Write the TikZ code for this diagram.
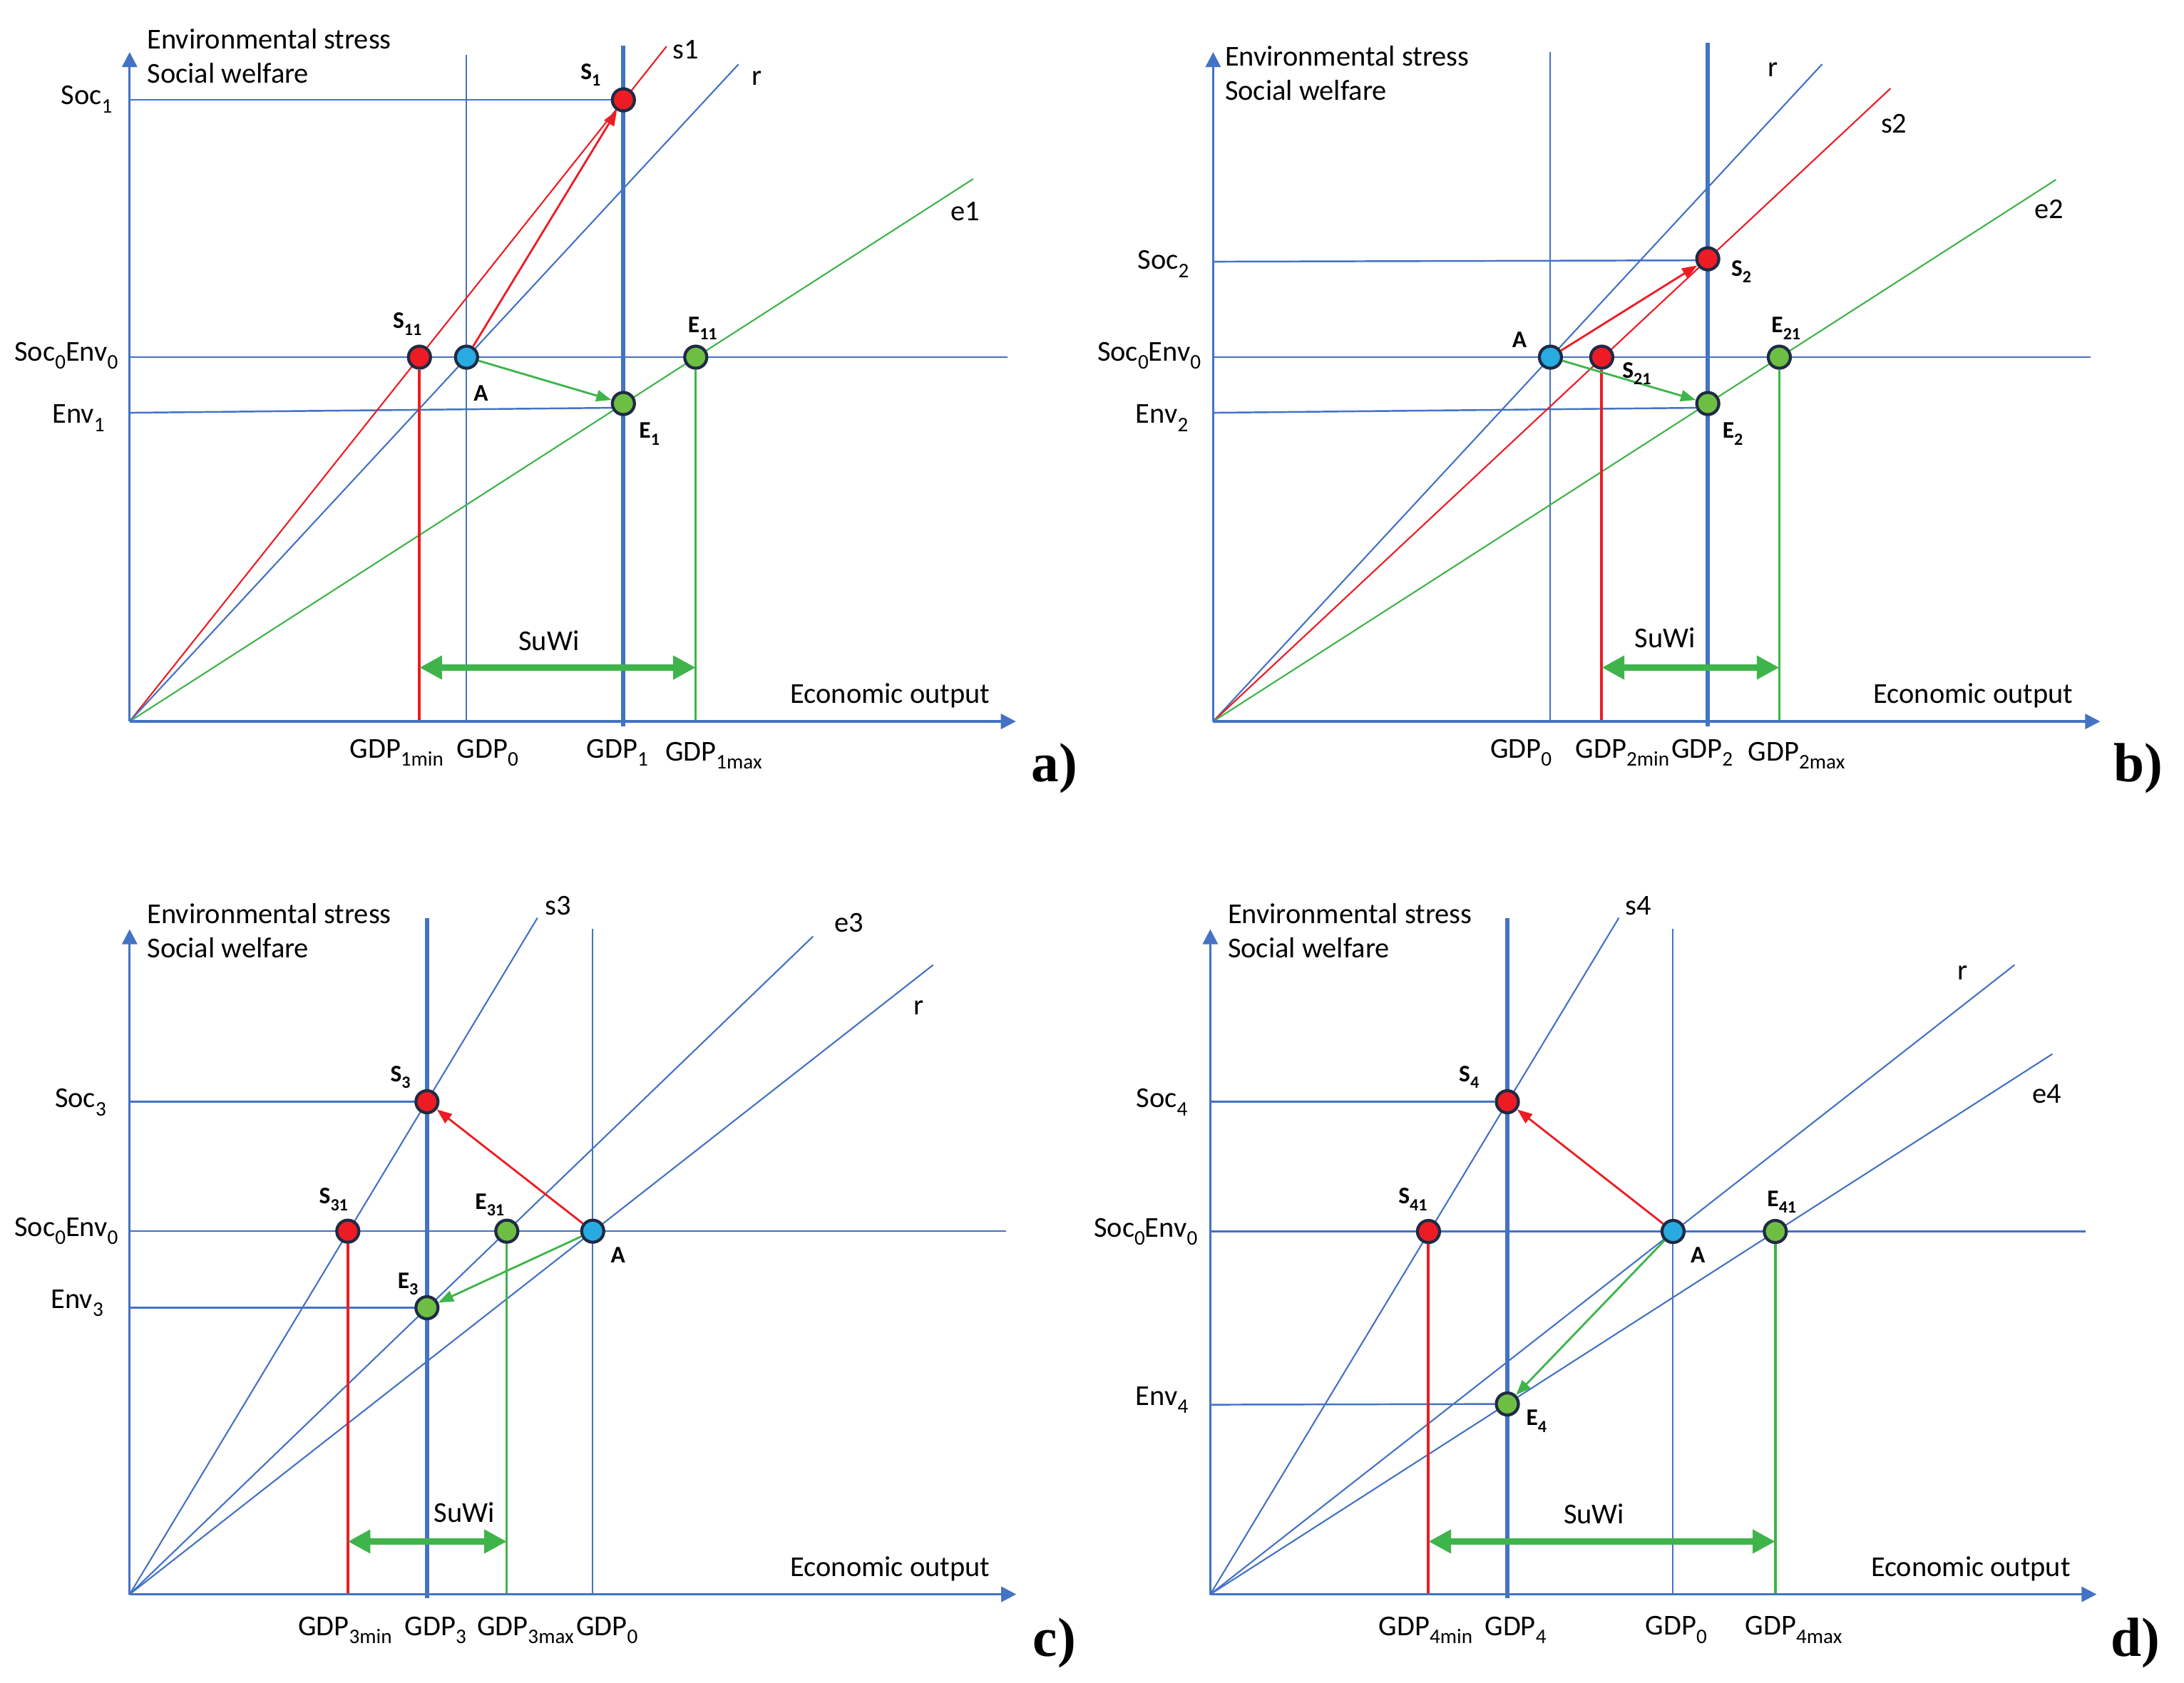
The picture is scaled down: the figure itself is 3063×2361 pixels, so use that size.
\documentclass[tikz,border=0pt]{standalone}
\usepackage{fontspec}
\setmainfont{Carlito}
\newfontfamily\tagfont{Liberation Serif}
\usetikzlibrary{arrows.meta,backgrounds}

\definecolor{axblue}{RGB}{68,114,196}
\definecolor{lred}{RGB}{237,28,36}
\definecolor{lgreen}{RGB}{62,180,74}
\definecolor{ptblue}{RGB}{41,170,225}
\definecolor{ptgreen}{RGB}{110,190,68}
\definecolor{navy}{RGB}{31,42,68}

\newcommand{\dn}[1]{\raisebox{-0.28em}{\scalebox{0.72}{#1}}}

\begin{document}
\begin{tikzpicture}[x=0.01cm,y=0.01cm,
    axis/.style={draw=axblue,line width=0.95pt,-{Triangle[length=6pt,width=6pt]}},
    guide/.style={draw=axblue,line width=0.7pt},
    gdpzero/.style={draw=axblue,line width=0.6pt},
    gdpline/.style={draw=axblue,line width=1.8pt},
    slope/.style={line width=0.6pt},
    minline/.style={draw=lred,line width=1.1pt},
    maxline/.style={draw=lgreen,line width=0.95pt},
    mov/.style={line width=0.8pt,-{Triangle[length=6pt,width=4.5pt]}},
    suwi/.style={draw=lgreen,line width=2.8pt,
        arrows={Triangle[length=9pt,width=9pt]-Triangle[length=9pt,width=9pt]}},
    pnt/.style={circle,draw=navy,line width=1.2pt,minimum size=0.31cm,inner sep=0pt},
    redpt/.style={pnt,fill=lred},
    bluept/.style={pnt,fill=ptblue},
    greenpt/.style={pnt,fill=ptgreen},
    lbl/.style={font=\fontsize{11.5}{13}\selectfont,inner sep=0pt},
    ptlbl/.style={font=\fontsize{9.5}{11}\selectfont\bfseries,inner sep=0pt},
    tag/.style={font=\tagfont\bfseries\fontsize{22}{24}\selectfont,inner sep=0pt}]

\useasboundingbox (0,0) rectangle (3063,2361);

% ---------------- a)
\begin{scope}[shift={(181.8,1348.9)}]
    \coordinate (aO) at (0,0);
    \coordinate (aY) at (0,939);
    \coordinate (aX) at (1243,0);
    \coordinate (aH) at (1231,511);
    \coordinate (aSoc) at (0,872);
    \coordinate (aEnv) at (0,433);
    \coordinate (aG0) at (472.5,935);
    \coordinate (aG1t) at (692.5,948);
    \coordinate (aG1b) at (692.5,-7);
    \coordinate (aW) at (0,75.6);
    \coordinate (as) at (753,947);
    \coordinate (ar) at (854,922);
    \coordinate (ae) at (1183,761);

    \node[redpt] (aS11) at (406.5,511) {};
    \node[bluept] (aA) at (472.5,511) {};
    \node[greenpt] (aE11) at (794,511) {};
    \node[redpt] (aS1) at (692.5,872) {};
    \node[greenpt] (aE1) at (692.5,446) {};

    \begin{scope}[on background layer]
    \draw[guide] (aO |- aA) -- (aH);
    \draw[guide] (aSoc) -- (aS1);
    \draw[guide] (aEnv) -- (aE1.200);
    \draw[gdpzero] (aG0) -- (aG0 |- aO);
    \draw[gdpline] (aG1t) -- (aG1b);
    \draw[slope,lred] (aO) -- (as);
    \draw[slope,axblue] (aO) -- (ar);
    \draw[slope,lgreen] (aO) -- (ae);
    \draw[minline] (aS11) -- (aS11 |- aO);
    \draw[maxline] (aE11) -- (aE11 |- aO);
    \draw[axis] (aO) -- (aX);
    \draw[axis] (aO) -- (aY);
    \end{scope}
    \draw[suwi] (aS11 |- aW) -- (aE11 |- aW);
    \draw[mov,lred] (aA) -- (aS1);
    \draw[mov,lgreen] (aA) -- (aE1);

    \node[lbl] (aLs) at (779.6,942.4) {s1};
    \node[lbl] (aLr) at (880,902) {r};
    \node[lbl] (aLe) at (1171.8,715) {e1};
    \node[ptlbl] (aLS11) at (389.3,557.4) {S\dn{11}};
    \node[ptlbl] (aLS1) at (646.6,907.2) {S\dn{1}};
    \node[ptlbl] (aLE11) at (803.5,551.5) {E\dn{11}};
    \node[ptlbl] (aLA) at (492.6,460.6) {A};
    \node[ptlbl] (aLE1) at (728.9,403.4) {E\dn{1}};
    \node[lbl] (aLsoc) at (-60.3,872.8) {Soc\dn{1}};
    \node[lbl] (aLse) at (-89,513) {Soc\dn{0}Env\dn{0}};
    \node[lbl] (aLenv) at (-71.8,425.4) {Env\dn{1}};
    \node[lbl] (aLgmin) at (374.5,-44) {GDP\dn{1min}};
    \node[lbl] (aLg0) at (502,-44) {GDP\dn{0}};
    \node[lbl] (aLg1) at (684,-44) {GDP\dn{1}};
    \node[lbl] (aLgmax) at (819,-47.7) {GDP\dn{1max}};
    \node[lbl,anchor=west] (aLes) at (24,957) {Environmental stress};
    \node[lbl,anchor=west] (aLsw) at (24,909.4) {Social welfare};
    \node[lbl] (aLeo) at (1066.6,36.7) {Economic output};
    \node[lbl] (aLsuwi) at (588,113.7) {SuWi};
    \node[tag] (aTag) at (1297,-66) {a)};
\end{scope}

% ---------------- b)
\begin{scope}[shift={(1701.4,1348.9)}]
    \coordinate (bO) at (0,0);
    \coordinate (bY) at (0,939);
    \coordinate (bX) at (1244,0);
    \coordinate (bH) at (1231,511);
    \coordinate (bSoc) at (0,645);
    \coordinate (bEnv) at (0,433);
    \coordinate (bG0) at (473,939);
    \coordinate (bG2t) at (693.7,952);
    \coordinate (bG2b) at (693.7,-7);
    \coordinate (bW) at (0,75.6);
    \coordinate (bs) at (950,888);
    \coordinate (br) at (854,922);
    \coordinate (be) at (1182,760);

    \node[bluept] (bA) at (473,511) {};
    \node[redpt] (bS21) at (545,511) {};
    \node[greenpt] (bE21) at (794,511) {};
    \node[redpt] (bS2) at (693.7,649) {};
    \node[greenpt] (bE2) at (693.7,446) {};

    \begin{scope}[on background layer]
    \draw[guide] (bO |- bA) -- (bH);
    \draw[guide] (bSoc) -- (bS2.187);
    \draw[guide] (bEnv) -- (bE2.200);
    \draw[gdpzero] (bG0) -- (bG0 |- bO);
    \draw[gdpline] (bG2t) -- (bG2b);
    \draw[slope,axblue] (bO) -- (br);
    \draw[slope,lred] (bO) -- (bs);
    \draw[slope,lgreen] (bO) -- (be);
    \draw[minline] (bS21) -- (bS21 |- bO);
    \draw[maxline] (bE21) -- (bE21 |- bO);
    \draw[axis] (bO) -- (bX);
    \draw[axis] (bO) -- (bY);
    \end{scope}
    \draw[suwi] (bS21 |- bW) -- (bE21 |- bW);
    \draw[mov,lred] (bA) -- (bS2);
    \draw[mov,lgreen] (bA) -- (bE2);

    \node[lbl] (bLr) at (785.4,914.6) {r};
    \node[lbl] (bLs) at (954.9,838.3) {s2};
    \node[lbl] (bLe) at (1172.2,718.7) {e2};
    \node[ptlbl] (bLS2) at (740.6,630.7) {S\dn{2}};
    \node[ptlbl] (bLA) at (429.6,535.4) {A};
    \node[ptlbl] (bLS21) at (594,487.7) {S\dn{21}};
    \node[ptlbl] (bLE21) at (803.4,551.5) {E\dn{21}};
    \node[ptlbl] (bLE2) at (728.6,403.4) {E\dn{2}};
    \node[lbl] (bLsoc) at (-69.8,641.7) {Soc\dn{2}};
    \node[lbl] (bLse) at (-89.8,513) {Soc\dn{0}Env\dn{0}};
    \node[lbl] (bLenv) at (-71.8,425.4) {Env\dn{2}};
    \node[lbl] (bLg0) at (431.6,-44) {GDP\dn{0}};
    \node[lbl] (bLgmin) at (574,-44) {GDP\dn{2min}};
    \node[lbl] (bLg2) at (685.7,-44) {GDP\dn{2}};
    \node[lbl] (bLgmax) at (818.3,-47.7) {GDP\dn{2max}};
    \node[lbl,anchor=west] (bLes) at (16,933.6) {Environmental stress};
    \node[lbl,anchor=west] (bLsw) at (16,885.2) {Social welfare};
    \node[lbl] (bLeo) at (1066,36.7) {Economic output};
    \node[lbl] (bLsuwi) at (633.9,117.4) {SuWi};
    \node[tag] (bTag) at (1297,-66) {b)};
\end{scope}

% ---------------- c)
\begin{scope}[shift={(181.8,124.4)}]
    \coordinate (cO) at (0,0);
    \coordinate (cY) at (0,933);
    \coordinate (cX) at (1243.5,0);
    \coordinate (cH) at (1229,509.4);
    \coordinate (cSoc) at (0,691);
    \coordinate (cEnv) at (0,402);
    \coordinate (cG0) at (649.5,934);
    \coordinate (cG3t) at (417,949);
    \coordinate (cG3b) at (417,-5);
    \coordinate (cW) at (0,74.1);
    \coordinate (cs) at (572,949);
    \coordinate (ce) at (958.5,923);
    \coordinate (cr) at (1127,883);

    \node[redpt] (cS31) at (306,509.4) {};
    \node[greenpt] (cE31) at (529,509.4) {};
    \node[bluept] (cA) at (649.5,509.4) {};
    \node[redpt] (cS3) at (417,691) {};
    \node[greenpt] (cE3) at (417,402) {};

    \begin{scope}[on background layer]
    \draw[guide] (cO |- cA) -- (cH);
    \draw[guide] (cSoc) -- (cS3);
    \draw[guide] (cEnv) -- (cE3);
    \draw[gdpzero] (cG0) -- (cG0 |- cO);
    \draw[gdpline] (cG3t) -- (cG3b);
    \draw[slope,axblue] (cO) -- (cs);
    \draw[slope,axblue] (cO) -- (ce);
    \draw[slope,axblue] (cO) -- (cr);
    \draw[minline] (cS31) -- (cS31 |- cO);
    \draw[maxline] (cE31) -- (cE31 |- cO);
    \draw[axis] (cO) -- (cX);
    \draw[axis] (cO) -- (cY);
    \end{scope}
    \draw[suwi] (cS31 |- cW) -- (cE31 |- cW);
    \draw[mov,lred] (cA) -- (cS3);
    \draw[mov,lgreen] (cA) -- (cE3);

    \node[lbl] (cLs) at (600.7,966.3) {s3};
    \node[lbl] (cLe) at (1009.2,941.8) {e3};
    \node[lbl] (cLr) at (1106.7,823.4) {r};
    \node[ptlbl] (cLS3) at (379.7,725.6) {S\dn{3}};
    \node[ptlbl] (cLS31) at (286,553.9) {S\dn{31}};
    \node[ptlbl] (cLE31) at (505,546.5) {E\dn{31}};
    \node[ptlbl] (cLE3) at (390.2,435.4) {E\dn{3}};
    \node[ptlbl] (cLA) at (684.9,476.1) {A};
    \node[lbl] (cLsoc) at (-68.9,690.1) {Soc\dn{3}};
    \node[lbl] (cLse) at (-89,509.4) {Soc\dn{0}Env\dn{0}};
    \node[lbl] (cLenv) at (-73.7,408.7) {Env\dn{3}};
    \node[lbl] (cLgmin) at (302.2,-50.3) {GDP\dn{3min}};
    \node[lbl] (cLg3) at (429,-50.3) {GDP\dn{3}};
    \node[lbl] (cLgmax) at (555.2,-50.3) {GDP\dn{3max}};
    \node[lbl] (cLg0) at (669.6,-50.3) {GDP\dn{0}};
    \node[lbl,anchor=west] (cLes) at (24,955.2) {Environmental stress};
    \node[lbl,anchor=west] (cLsw) at (24,907) {Social welfare};
    \node[lbl] (cLeo) at (1066.6,35.6) {Economic output};
    \node[lbl] (cLsuwi) at (469.6,114.8) {SuWi};
    \node[tag] (cTag) at (1297,-68.4) {c)};
\end{scope}

% ---------------- d)
\begin{scope}[shift={(1697.4,124.4)}]
    \coordinate (dO) at (0,0);
    \coordinate (dY) at (0,933);
    \coordinate (dX) at (1243,0);
    \coordinate (dH) at (1228,509);
    \coordinate (dSoc) at (0,691);
    \coordinate (dEnv) at (0,266);
    \coordinate (dG0) at (649,934);
    \coordinate (dG4t) at (416.6,949);
    \coordinate (dG4b) at (416.6,-5);
    \coordinate (dW) at (0,74.1);
    \coordinate (ds) at (573,949);
    \coordinate (dr) at (1128,883);
    \coordinate (de) at (1181,758);

    \node[redpt] (dS41) at (306,509) {};
    \node[bluept] (dA) at (649,509) {};
    \node[greenpt] (dE41) at (792.4,509) {};
    \node[redpt] (dS4) at (416.6,691) {};
    \node[greenpt] (dE4) at (416.6,267) {};

    \begin{scope}[on background layer]
    \draw[guide] (dO |- dA) -- (dH);
    \draw[guide] (dSoc) -- (dS4);
    \draw[guide] (dEnv) -- (dE4);
    \draw[gdpzero] (dG0) -- (dG0 |- dO);
    \draw[gdpline] (dG4t) -- (dG4b);
    \draw[slope,axblue] (dO) -- (ds);
    \draw[slope,axblue] (dO) -- (dr);
    \draw[slope,axblue] (dO) -- (de);
    \draw[minline] (dS41) -- (dS41 |- dO);
    \draw[maxline] (dE41) -- (dE41 |- dO);
    \draw[axis] (dO) -- (dX);
    \draw[axis] (dO) -- (dY);
    \end{scope}
    \draw[suwi] (dS41 |- dW) -- (dE41 |- dW);
    \draw[mov,lred] (dA) -- (dS4);
    \draw[mov,lgreen] (dA) -- (dE4);

    \node[lbl] (dLs) at (600,966.3) {s4};
    \node[lbl] (dLr) at (1055.6,872.2) {r};
    \node[lbl] (dLe) at (1173.2,701.9) {e4};
    \node[ptlbl] (dLS4) at (362.8,725.6) {S\dn{4}};
    \node[ptlbl] (dLS41) at (284.1,553.9) {S\dn{41}};
    \node[ptlbl] (dLE41) at (801.4,550.2) {E\dn{41}};
    \node[ptlbl] (dLA) at (683.8,476.1) {A};
    \node[ptlbl] (dLE4) at (457.5,242.9) {E\dn{4}};
    \node[lbl] (dLsoc) at (-67.8,690.1) {Soc\dn{4}};
    \node[lbl] (dLse) at (-90.7,508.7) {Soc\dn{0}Env\dn{0}};
    \node[lbl] (dLenv) at (-67.8,272.5) {Env\dn{4}};
    \node[lbl] (dLgmin) at (302,-50) {GDP\dn{4min}};
    \node[lbl] (dLg4) at (428.1,-50) {GDP\dn{4}};
    \node[lbl] (dLg0) at (653.4,-50) {GDP\dn{0}};
    \node[lbl] (dLgmax) at (818.3,-50) {GDP\dn{4max}};
    \node[lbl,anchor=west] (dLes) at (24,955.2) {Environmental stress};
    \node[lbl,anchor=west] (dLsw) at (24,907) {Social welfare};
    \node[lbl] (dLeo) at (1066.5,35.6) {Economic output};
    \node[lbl] (dLsuwi) at (538.2,112.6) {SuWi};
    \node[tag] (dTag) at (1297,-68.4) {d)};
\end{scope}
\end{tikzpicture}
\end{document}
